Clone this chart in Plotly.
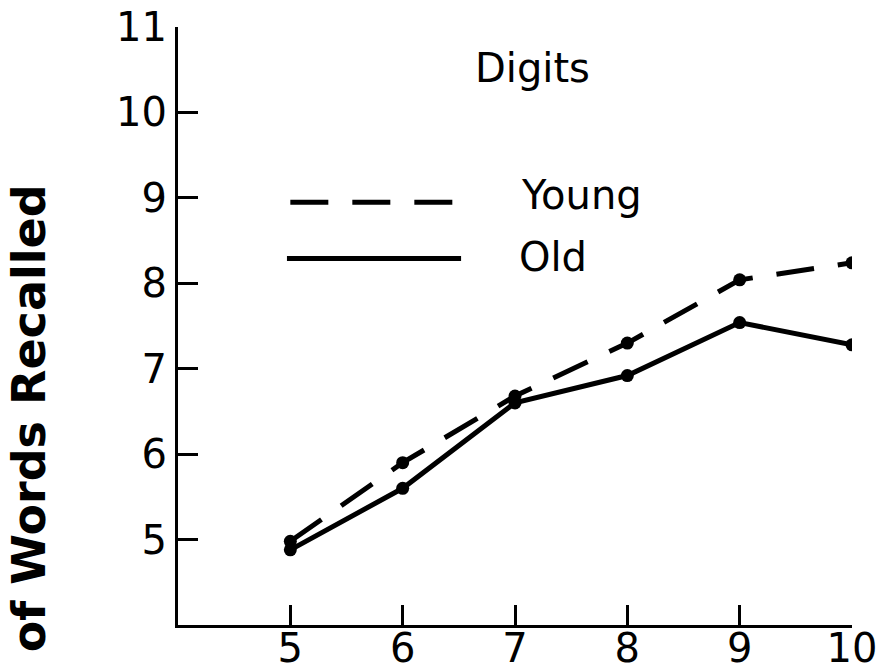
import plotly.graph_objects as go

list_length = [5, 6, 7, 8, 9, 10]
young = [4.98, 5.90, 6.68, 7.30, 8.04, 8.24]
old = [4.88, 5.60, 6.60, 6.92, 7.54, 7.28]
x_ticks = [5, 6, 7, 8, 9, 10]
y_ticks = [5, 6, 7, 8, 9, 10, 11]

FONT = "DejaVu Sans"
fig = go.Figure()
fig.add_trace(go.Scatter(x=list_length, y=young, mode="lines+markers", name="Young",
                         line=dict(color="black", width=5, dash="38px,24px"),
                         marker=dict(color="black", size=13)))
fig.add_trace(go.Scatter(x=list_length, y=old, mode="lines+markers", name="Old",
                         line=dict(color="black", width=5),
                         marker=dict(color="black", size=13)))

# legend key drawn as in the original
fig.add_shape(type="line", xref="x", yref="y", x0=5.0, x1=6.5, y0=8.95, y1=8.95,
              line=dict(color="black", width=5, dash="38px,24px"))
fig.add_shape(type="line", xref="x", yref="y", x0=4.97, x1=6.52, y0=8.29, y1=8.29,
              line=dict(color="black", width=5))
fig.add_annotation(x=7.04, y=9.03, xref="x", yref="y", text="Young", showarrow=False,
                   xanchor="left", yanchor="middle", font=dict(family=FONT, size=40, color="black"))
fig.add_annotation(x=7.02, y=8.31, xref="x", yref="y", text="Old", showarrow=False,
                   xanchor="left", yanchor="middle", font=dict(family=FONT, size=40, color="black"))
fig.add_annotation(x=7.16, y=10.52, xref="x", yref="y", text="Digits", showarrow=False,
                   xanchor="center", yanchor="middle", font=dict(family=FONT, size=40, color="black"))
fig.add_annotation(x=-0.221, y=0.741, xref="paper", yref="paper", text="<b>No. of Words Recalled</b>",
                   textangle=-90, showarrow=False, xanchor="center", yanchor="top",
                   font=dict(family=FONT, size=46, color="black"))

fig.update_layout(
    width=888, height=671,
    margin=dict(l=178, r=36, t=27, b=46, autoexpand=False),
    paper_bgcolor="white", plot_bgcolor="white",
    showlegend=False,
    font=dict(family=FONT, size=40, color="black"),
)
fig.update_xaxes(range=[4, 10], tickvals=x_ticks, ticktext=[str(v) for v in x_ticks],
                 automargin=False, ticklabelstandoff=-14,
                 showgrid=False, zeroline=False, showline=True, linecolor="black", linewidth=3,
                 ticks="inside", ticklen=20, tickwidth=3, tickcolor="black",
                 tickfont=dict(family=FONT, size=40, color="black"))
fig.update_yaxes(range=[4, 11], tickvals=y_ticks, ticktext=[str(v) for v in y_ticks],
                 automargin=False,
                 showgrid=False, zeroline=False, showline=True, linecolor="black", linewidth=3,
                 ticks="inside", ticklen=20, tickwidth=3, tickcolor="black",
                 tickfont=dict(family=FONT, size=40, color="black"))

fig.write_html("out.html")
